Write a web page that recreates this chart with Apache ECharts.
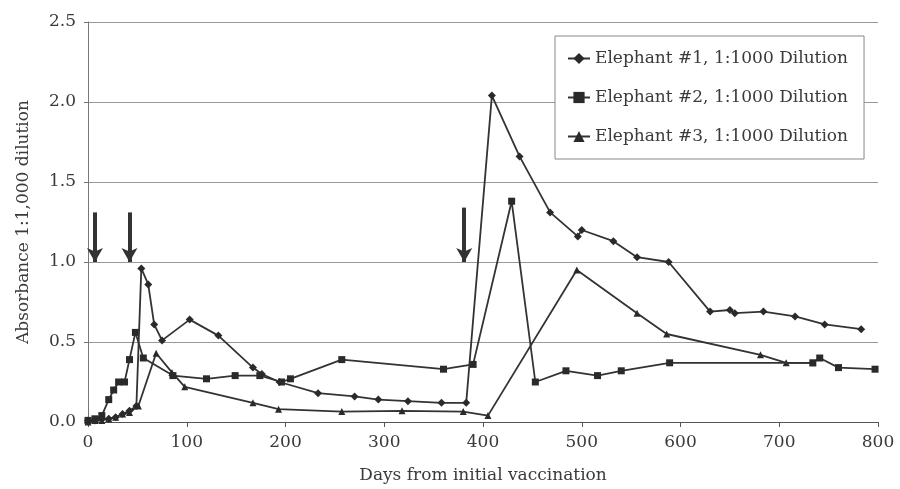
<!DOCTYPE html>
<html>
<head>
<meta charset="utf-8">
<script src="https://cdn.jsdelivr.net/npm/echarts@6/dist/echarts.min.js"></script>
<style>
html,body{margin:0;padding:0;background:#fff;}
#chart{width:900px;height:489px;}
</style>
</head>
<body>
<div id="chart"></div>
<script>
// Data: [day, absorbance]
var seriesNames = [
  'Elephant #1, 1:1000 Dilution',
  'Elephant #2, 1:1000 Dilution',
  'Elephant #3, 1:1000 Dilution'
];
var elephant1 = [[0,0.01],[7,0.01],[14,0.02],[21,0.02],[28,0.03],[35,0.05],[42,0.07],[49,0.10],[54,0.96],[61,0.86],[67,0.61],[75,0.51],[103,0.64],[132,0.54],[167,0.34],[176,0.30],[194,0.25],[233,0.18],[270,0.16],[294,0.14],[324,0.13],[358,0.12],[383,0.12],[409,2.04],[437,1.66],[468,1.31],[496,1.16],[500,1.20],[532,1.13],[556,1.03],[588,1.00],[630,0.69],[650,0.70],[655,0.68],[684,0.69],[716,0.66],[746,0.61],[783,0.58]];
var elephant2 = [[0,0.01],[7,0.02],[14,0.04],[21,0.14],[26,0.20],[31,0.25],[37,0.25],[42,0.39],[48,0.56],[56,0.40],[86,0.29],[120,0.27],[149,0.29],[174,0.29],[196,0.25],[205,0.27],[257,0.39],[360,0.33],[390,0.36],[429,1.38],[453,0.25],[484,0.32],[516,0.29],[540,0.32],[589,0.37],[734,0.37],[741,0.40],[760,0.34],[797,0.33]];
var elephant3 = [[0,0.00],[7,0.01],[14,0.01],[21,0.02],[28,0.03],[35,0.05],[42,0.06],[51,0.10],[69,0.43],[85,0.31],[98,0.22],[167,0.12],[193,0.08],[257,0.065],[318,0.07],[380,0.065],[405,0.04],[495,0.95],[556,0.68],[586,0.55],[681,0.42],[707,0.37],[734,0.37]];
// vaccination arrows: day, top value, tip value
var arrowDays = [7, 42, 381];
var arrowTop = [1.31, 1.31, 1.34];
var arrowTip = 1.0;

var xTicks = [0,100,200,300,400,500,600,700,800];
var yTicks = ['0.0','0.5','1.0','1.5','2.0','2.5'];

var FONT = 'DejaVu Serif';
var TXT = '#3a3a3a';
var symbols = ['diamond','rect','triangle'];
var symbolSizes = [8,7,7];
var datasets = [elephant1, elephant2, elephant3];

var arrowData = arrowDays.map(function(d,i){
  return [{coord:[d, arrowTop[i]]},{coord:[d, arrowTip]}];
});

var series = datasets.map(function(data,i){
  var s = {
    name: seriesNames[i],
    type: 'line',
    data: data,
    symbol: symbols[i],
    symbolSize: symbolSizes[i],
    showSymbol: true,
    itemStyle: {color:'#2a2a2a'},
    lineStyle: {color:'#333', width:1.8},
    z: 3 - i
  };
  if (i === 0) {
    s.markLine = {
      silent: true,
      symbol: ['none','arrow'],
      symbolSize: [12, 14],
      label: {show:false},
      lineStyle: {color:'#333', width:4, type:'solid'},
      emphasis: {disabled:true},
      data: arrowData
    };
  }
  return s;
});

var chart = echarts.init(document.getElementById('chart'), null, {renderer:'canvas'});
chart.setOption({
  animation: false,
  backgroundColor: '#fff',
  textStyle: {fontFamily: FONT},
  grid: {left:88, right:22, top:22, bottom:65.5},
  legend: {
    data: seriesNames,
    orient: 'vertical',
    left: 555,
    top: 36,
    padding: [14, 16, 14, 12],
    itemGap: 22,
    itemWidth: 22,
    itemHeight: 14,
    borderColor: '#888',
    borderWidth: 1,
    backgroundColor: '#fff',
    textStyle: {fontFamily: FONT, fontSize: 17, color: TXT}
  },
  xAxis: {
    type: 'value',
    min: 0, max: 800, interval: 100,
    axisLine: {show:true, lineStyle:{color:'#555', width:1}},
    axisTick: {show:true, length:5, lineStyle:{color:'#555'}},
    splitLine: {show:false},
    axisLabel: {fontFamily:FONT, fontSize:17, color:TXT, margin:12,
      formatter: function(v){ var k = xTicks.indexOf(v); return k>=0 ? String(xTicks[k]) : ''; }},
    name: 'Days from initial vaccination',
    nameLocation: 'middle',
    nameGap: 45,
    nameTextStyle: {fontFamily:FONT, fontSize:17, color:TXT}
  },
  yAxis: {
    type: 'value',
    min: 0, max: 2.5, interval: 0.5,
    axisLine: {show:true, lineStyle:{color:'#777', width:1}},
    axisTick: {show:true, length:4, lineStyle:{color:'#777'}},
    splitLine: {show:true, lineStyle:{color:'#999', width:1}},
    axisLabel: {fontFamily:FONT, fontSize:17, color:TXT, margin:12,
      formatter: function(v){ return yTicks[Math.round(v/0.5)]; }},
    name: 'Absorbance 1:1,000 dilution',
    nameLocation: 'middle',
    nameGap: 56,
    nameTextStyle: {fontFamily:FONT, fontSize:17, color:TXT}
  },
  series: series
});
</script>
</body>
</html>
